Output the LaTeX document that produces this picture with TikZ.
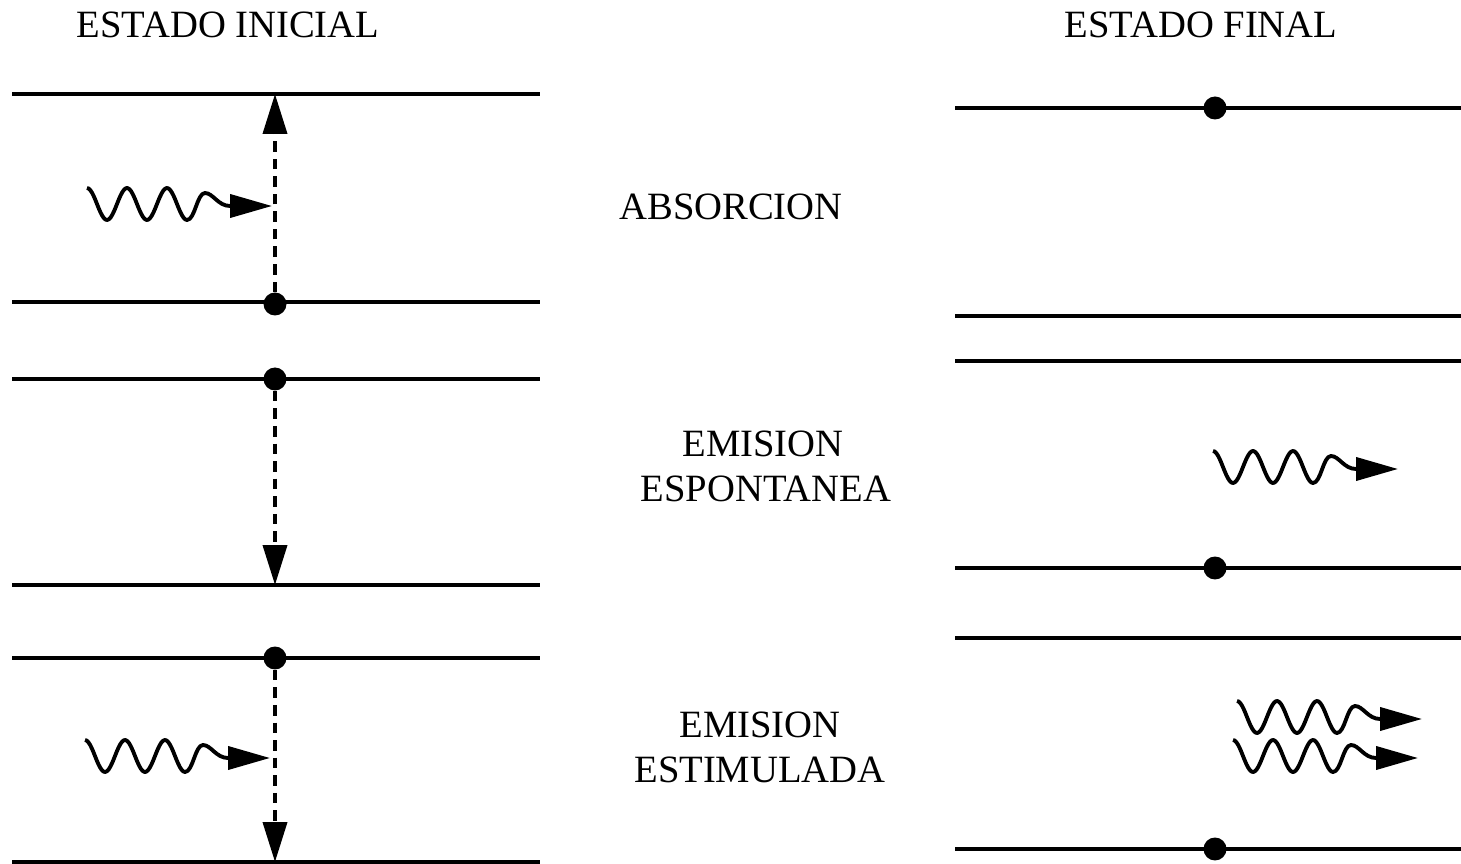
\documentclass[tikz,border=0pt]{standalone}
\usepackage{fontspec}
\setmainfont{Liberation Serif}
\usetikzlibrary{arrows.meta}

\tikzset{
  nivel/.style={line width=2pt},
  electron/.style={circle, fill, inner sep=0pt, minimum size=0.46cm},
  transicion/.style={line width=2.2pt, dash pattern=on 6pt off 4pt, -{Triangle[length=0.8cm, width=0.48cm]}},
  foton/.style={line width=2.2pt, line join=round, -{Triangle[length=0.84cm, width=0.46cm]}},
  rotulo/.style={anchor=base, font=\fontsize{22}{26}\selectfont, inner sep=0pt}
}

% foton: onda con punta de flecha, #1 = nombre del punto de partida
\newcommand{\foton}[1]{%
  \draw[foton, shift={(#1)}] plot[domain=0:100, samples=60, smooth] (\x, {-16*cos(9*\x)})
    .. controls (108,16) and (110,-11) .. (118,-11)
    .. controls (126,-11) and (131,2) .. (143,2) -- (185,2);}

\begin{document}
\begin{tikzpicture}[x=0.02cm, y=-0.02cm]
  \useasboundingbox (0,0) rectangle (1461,864);
  % titulos
  \node[rotulo] (inicial) at (228,38) {ESTADO INICIAL};
  \node[rotulo] (final) at (1201,38) {ESTADO FINAL};
  \node[rotulo] (absorcion) at (731,220) {ABSORCION};
  \node[rotulo] (espont1) at (763,457) {EMISION};
  \node[rotulo] (espont2) at (766,502) {ESPONTANEA};
  \node[rotulo] (estim1) at (760,737) {EMISION};
  \node[rotulo] (estim2) at (760,782) {ESTIMULADA};

  % niveles de energia
  \foreach \y in {94,302,379,585,658,862}
    \draw[nivel] (12,\y) -- (540,\y);
  \foreach \y in {108,316,361,568,638,849}
    \draw[nivel] (955,\y) -- (1461,\y);

  % electrones
  \node[electron] (ea) at (275,304) {};
  \node[electron] (eb) at (275,379) {};
  \node[electron] (ec) at (275,658) {};
  \node[electron] (fa) at (1215,108) {};
  \node[electron] (fb) at (1215,568) {};
  \node[electron] (fc) at (1215,849) {};

  % transiciones
  \coordinate (ta) at (275,94);
  \coordinate (tb) at (275,585);
  \coordinate (tc) at (275,862);
  \draw[transicion] (ea) -- (ta);
  \draw[transicion] (eb) -- (tb);
  \draw[transicion] (ec) -- (tc);

  % fotones
  \coordinate (pa) at (87,204);
  \coordinate (pb) at (85,756);
  \coordinate (pc) at (1213,467);
  \coordinate (pd) at (1237,717);
  \coordinate (pe) at (1233,756);
  \foton{pa}
  \foton{pb}
  \foton{pc}
  \foton{pd}
  \foton{pe}
\end{tikzpicture}
\end{document}
